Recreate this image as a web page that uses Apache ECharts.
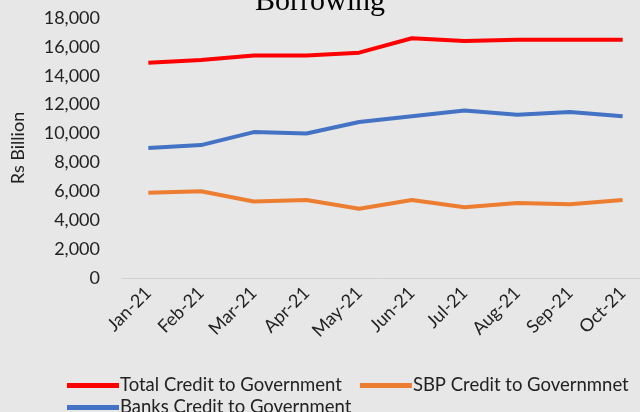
<!DOCTYPE html>
<html><head><meta charset="utf-8">
<script src="https://cdn.jsdelivr.net/npm/echarts@6/dist/echarts.min.js"></script>
<style>html,body{margin:0;padding:0;background:#e7e7e7;}#c{width:640px;height:412px;}</style>
</head><body><div id="c"></div>
<script>
var categories = ['Jan-21','Feb-21','Mar-21','Apr-21','May-21','Jun-21','Jul-21','Aug-21','Sep-21','Oct-21'];
var totalCredit = [14900,15100,15400,15400,15600,16600,16400,16500,16500,16500];
var banksCredit = [9000,9200,10100,10000,10800,11200,11600,11300,11500,11200];
var sbpCredit = [5900,6000,5300,5400,4800,5400,4900,5200,5100,5400];
var chart = echarts.init(document.getElementById('c'));
var font = 'Lato, "Open Sans", sans-serif';
var legendText = {fontFamily: font, fontSize: 18.5, color: '#222', padding: [0,0,0,-4]};
chart.setOption({
  backgroundColor: '#e7e7e7',
  animation: false,
  title: {text: 'Borrowing', left: 'center', top: -18,
    textStyle: {fontFamily: '"Liberation Serif", serif', fontSize: 30, fontWeight: 'normal', color: '#000'}},
  grid: {left: 122, top: 18, width: 527, height: 260, outerBoundsMode: 'none'},
  xAxis: {type: 'category', data: categories, boundaryGap: true,
    axisLine: {lineStyle: {color: '#d0d0d0'}}, axisTick: {show: false},
    axisLabel: {rotate: 45, fontFamily: font, fontSize: 18, color: '#222', margin: 12, interval: 0}},
  yAxis: {type: 'value', min: 0, max: 18000, interval: 2000,
    name: 'Rs Billion', nameLocation: 'middle', nameGap: 95, nameRotate: 90,
    nameTextStyle: {fontFamily: font, fontSize: 18, color: '#222'},
    axisLine: {show: false}, axisTick: {show: false}, splitLine: {show: false},
    axisLabel: {fontFamily: font, fontSize: 18, color: '#222', margin: 22,
      formatter: function(v){return v.toLocaleString('en-US');}}},
  legend: [
    {left: 62, top: 371, itemWidth: 52, itemHeight: 5, itemGap: 18, icon: 'rect', textStyle: legendText,
      data: ['Total Credit to Government','SBP Credit to Governmnet']},
    {left: 62, top: 393, itemWidth: 52, itemHeight: 5, itemGap: 18, icon: 'rect', textStyle: legendText,
      data: ['Banks Credit to Government']}
  ],
  series: [
    {name: 'Total Credit to Government', type: 'line', data: totalCredit, showSymbol: false, lineStyle: {width: 4, color: '#ff0000'}, itemStyle: {color: '#ff0000'}},
    {name: 'Banks Credit to Government', type: 'line', data: banksCredit, showSymbol: false, lineStyle: {width: 4, color: '#4472c4'}, itemStyle: {color: '#4472c4'}},
    {name: 'SBP Credit to Governmnet', type: 'line', data: sbpCredit, showSymbol: false, lineStyle: {width: 4, color: '#ed7d31'}, itemStyle: {color: '#ed7d31'}}
  ]
});
</script></body></html>
